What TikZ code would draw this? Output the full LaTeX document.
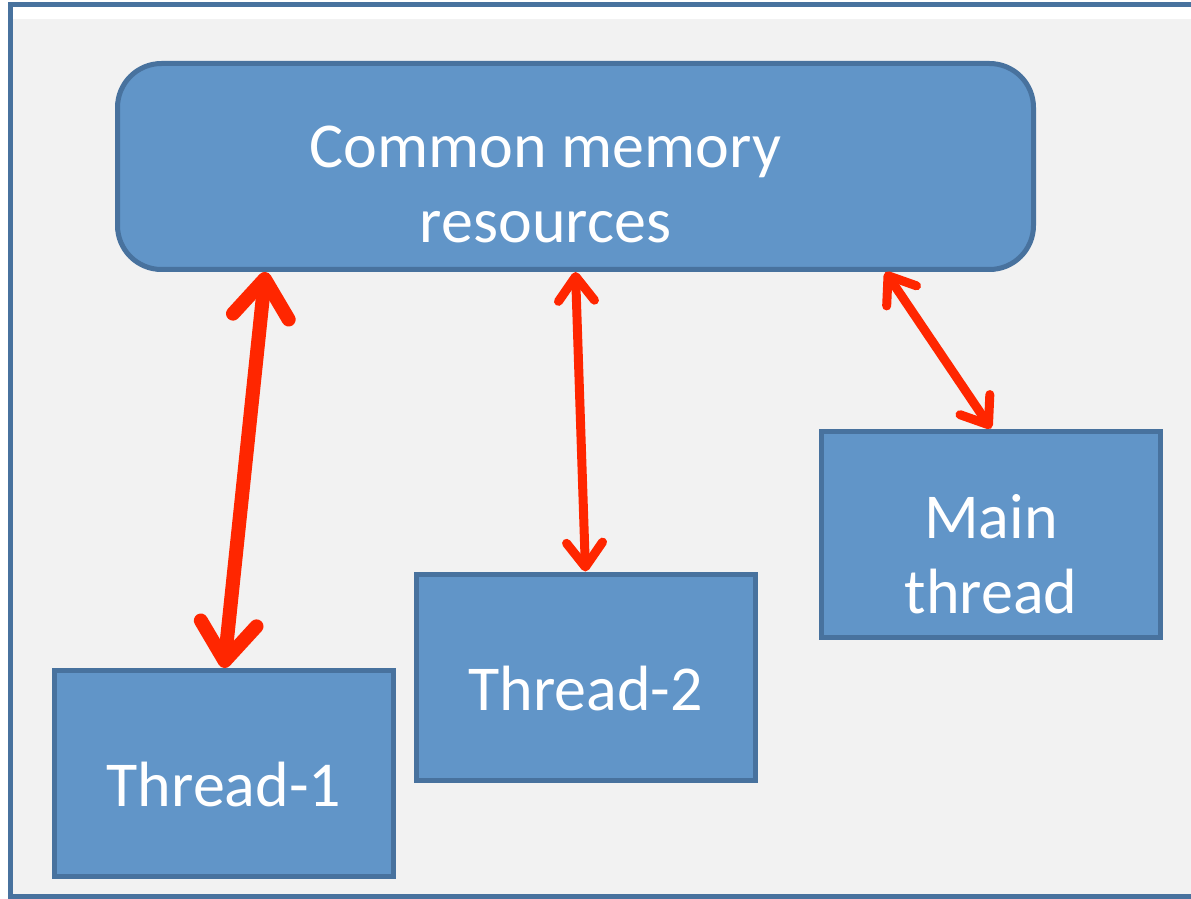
\documentclass[tikz,border=0pt]{standalone}
\usepackage{fontspec}
\setmainfont{Carlito}
\usepackage{xcolor}
\usepackage{tikz}
\usetikzlibrary{arrows.meta}

\definecolor{boxblue}{RGB}{97,149,200}
\definecolor{boxline}{RGB}{72,114,158}
\definecolor{panelgrey}{RGB}{242,242,242}
\definecolor{linkred}{RGB}{255,38,0}

\begin{document}
\begin{tikzpicture}[x=0.5pt,y=-0.5pt]
				\useasboundingbox (0,0) rectangle (1191,899);
				\fill[white] (0,0) rectangle (1191,899);
				\fill[panelgrey] (12,19) rectangle (1200,896);
				\draw[boxline,line width=2.5pt] (10.5,5) rectangle (1200,896.5);

				\begin{scope}[every node/.style={rectangle,draw=boxline,fill=boxblue,line width=2.5pt,
				                                 minimum width=169.5pt,minimum height=103pt},
				              every label/.style={draw=none,fill=none,text=white,align=center,
				                                  minimum width=0pt,minimum height=0pt,
				                                  font=\fontsize{32}{37.5}\selectfont}]
				    \node[rounded corners=22pt,minimum width=458pt,minimum height=103pt,
				          label={[xshift=-15pt,yshift=-9pt]center:Common memory\\resources}] (mem) at (575.5,166.5) {};
				    \node[label={[yshift=-5.5pt]center:Thread-1}] (T1) at (224,773.5) {};
				    \node[label={[yshift=-6pt]center:Thread-2}] (T2) at (585.5,677) {};
				    \node[label={[yshift=-10pt]center:Main\\thread}] (Main) at (991,534) {};
				\end{scope}

				\begin{scope}[>={Straight Barb[round,length=0pt 2.7,width=0pt 4]},
				              every edge/.style={draw=linkred,line cap=round}]
				    \path [<->] ([xshift=-155pt]mem.south) edge[line width=7pt] (T1.north);
				    \path [<->] (mem.south) edge[line width=4.5pt] (T2.north);
				    \path [<->] ([xshift=155pt]mem.south) edge[line width=4.5pt] (Main.north);
				\end{scope}
\end{tikzpicture}
\end{document}
